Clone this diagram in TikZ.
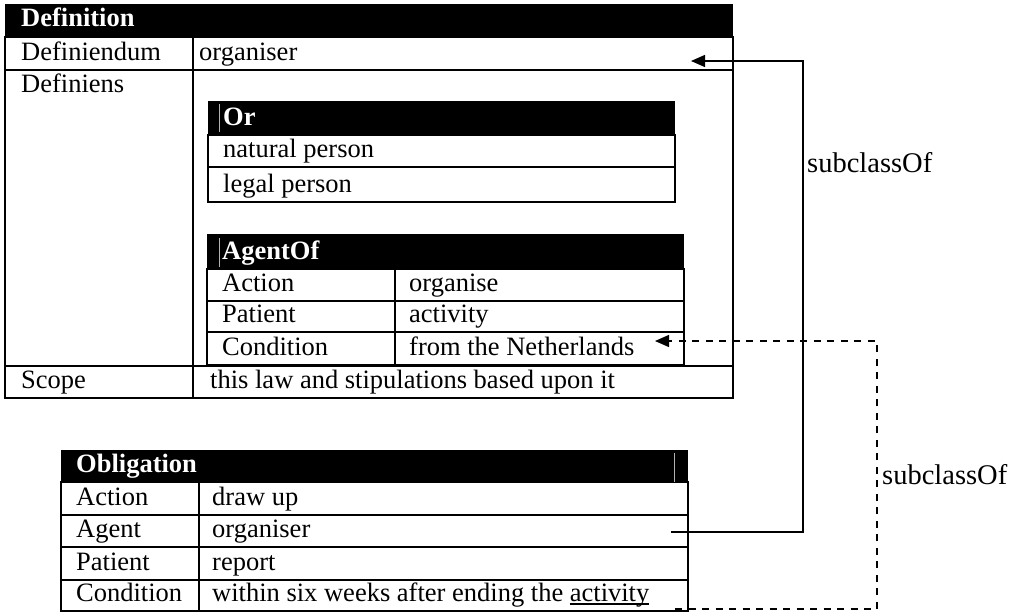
\documentclass[tikz,border=0pt]{standalone}
\usepackage{fontspec}
\setmainfont{Liberation Serif}
\usetikzlibrary{arrows.meta}
% underline that sits close to the baseline
\newcommand\ulword[1]{\setbox0\hbox{#1}\rlap{\rule[-3.6pt]{\wd0}{1.2pt}}#1}
\begin{document}
\begin{tikzpicture}[x=1pt,y=-1pt,
  frame/.style={line width=1.8pt,line cap=rect},
  cell/.style={anchor=base west,inner sep=0pt,font=\fontsize{26.5}{30}\selectfont},
  headtext/.style={cell,text=white,font=\fontsize{26.5}{30}\selectfont\bfseries},
  tag/.style={anchor=base west,inner sep=0pt,font=\fontsize{28.5}{32}\selectfont},
  seam/.style={gray!60,line width=0.7pt},
  link/.style={line width=1.3pt,-{Triangle[length=14pt,width=12pt]}},
  dashlink/.style={link,dash pattern=on 7pt off 6.5pt}]
\useasboundingbox (0,0) rectangle (1016,613);

% ---------- Definition table ----------
\fill (5,4) rectangle (733,37);
\draw[frame] (5,37) rectangle (733,398);
\draw[frame] (5,70) -- (733,70);
\draw[frame] (5,366) -- (733,366);
\draw[frame] (193,37) -- (193,398);
\node[headtext] (defHead) at (21,27) {Definition};
\node[cell] (dfdmKey) at (21,60) {Definiendum};
\node[cell] (dfdmVal) at (199,60) {organiser};
\node[cell] (dfnsKey) at (21,92) {Definiens};
\node[cell] (scopeKey) at (21,388) {Scope};
\node[cell] (scopeVal) at (210,388) {this law and stipulations based upon it};

% ---------- Or table ----------
\fill (208,101) rectangle (675,135);
\draw[frame] (208,135) rectangle (675,202);
\draw[frame] (208,167) -- (675,167);
\draw[seam] (219.5,104) -- (219.5,132);
\node[headtext] (orHead) at (223,125) {Or};
\node[cell] (orA) at (223,157) {natural person};
\node[cell] (orB) at (223,192) {legal person};

% ---------- AgentOf table ----------
\fill (207,234) rectangle (684,269);
\draw[frame] (207,269) rectangle (684,365);
\draw[frame] (207,301) -- (684,301);
\draw[frame] (207,332) -- (684,332);
\draw[frame] (395,269) -- (395,365);
\draw[seam] (219,238) -- (219,267);
\node[headtext] (agHead) at (222,259) {AgentOf};
\node[cell] (agK1) at (222,291) {Action};
\node[cell] (agV1) at (409,291) {organise};
\node[cell] (agK2) at (222,322) {Patient};
\node[cell] (agV2) at (409,322) {activity};
\node[cell] (agK3) at (222,355) {Condition};
\node[cell] (agV3) at (409,355) {from the Netherlands};

% ---------- Obligation table ----------
\fill (61,450) rectangle (688,482);
\draw[frame] (61,482) rectangle (688,611);
\draw[frame] (61,515) -- (688,515);
\draw[frame] (61,547) -- (688,547);
\draw[frame] (61,580) -- (688,580);
\draw[frame] (199,482) -- (199,611);
\draw[seam] (674,453) -- (674,482);
\node[headtext] (obHead) at (76,472) {Obligation};
\node[cell] (obK1) at (76,505) {Action};
\node[cell] (obV1) at (212,505) {draw up};
\node[cell] (obK2) at (76,537) {Agent};
\node[cell] (obV2) at (212,537) {organiser};
\node[cell] (obK3) at (76,570) {Patient};
\node[cell] (obV3) at (212,570) {report};
\node[cell] (obK4) at (76,601) {Condition};
\node[cell] (obV4) at (212,601) {within six weeks after ending the \ulword{activity}};

% ---------- subclassOf connectors ----------
\coordinate (agentEnd) at (671,532);
\coordinate (dfdmEnd) at (691,61);
\coordinate (condEnd) at (675,609);
\coordinate (nlEnd) at (655,341);
\draw[link] (agentEnd) -- ++(132,0) |- (dfdmEnd);
\draw[dashlink] (condEnd) -- ++(202,0) |- (nlEnd);
\node[tag] (subA) at (807,172) {subclassOf};
\node[tag] (subB) at (882,484) {subclassOf};
\end{tikzpicture}
\end{document}
